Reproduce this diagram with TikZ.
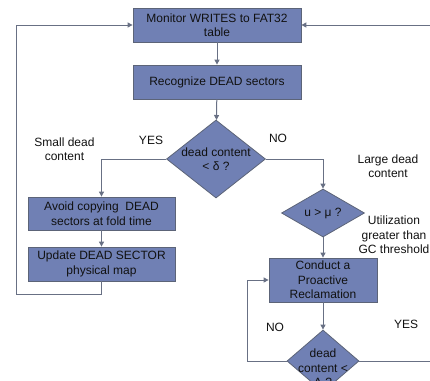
\documentclass[tikz,border=0pt]{standalone}
\usepackage{fontspec}
\setmainfont{Liberation Sans}
\usepackage{tikz}
\usetikzlibrary{arrows.meta, shapes.geometric}
\usepackage{xcolor}
\definecolor{boxfill}{HTML}{7080B4}
\definecolor{boxline}{HTML}{5C6478}
\definecolor{flowline}{HTML}{687084}
\definecolor{inktext}{HTML}{111111}

\tikzset{
  note/.style={align=center, text=inktext, inner sep=0pt, font=\fontsize{12}{14.5}\selectfont},
  stepbox/.style={note, draw=boxline, fill=boxfill, line width=0.8pt},
  decision/.style={diamond, draw=boxline, fill=boxfill, line width=0.8pt, inner sep=0pt},
  flow/.style={draw=flowline, line width=1pt, -{Triangle[length=5pt,width=5pt]}}
}

\begin{document}
\begin{tikzpicture}[x=1pt, y=-1pt]
				\useasboundingbox (0,0) rectangle (430,380);
				\clip (0,0) rectangle (430,380);
				% main column
				\node[stepbox, minimum width=168, minimum height=34] (monitor) at (217,25) {Monitor WRITES to FAT32\\table};
				\node[stepbox, minimum width=168, minimum height=34] (recognize) at (217,82) {Recognize DEAD sectors};
				\node[decision, minimum width=99, minimum height=78, label={[note]center:dead content\\< δ ?}] (deadtest) at (216,159) {};
				% small dead content branch
				\node[stepbox, minimum width=147, minimum height=33] (avoid) at (101.5,213.5) {Avoid copying\ \ DEAD\\sectors at fold time};
				\node[stepbox, minimum width=147, minimum height=34] (update) at (101.5,264) {Update DEAD SECTOR\\physical map};
				% large dead content branch
				\node[decision, minimum width=83, minimum height=48, label={[note]center:u > μ ?}] (utiltest) at (323,213) {};
				\node[stepbox, minimum width=108, minimum height=44] (reclaim) at (323,280) {Conduct a\\Proactive\\Reclamation};
				\node[decision, minimum width=72, minimum height=62, label={[note, yshift=-7pt]center:dead\\content <\\Δ ?}] (againtest) at (323,361) {};
				% labels
				\node[note] (yesA) at (151,140) {YES};
				\node[note] (noA) at (278,138) {NO};
				\node[note] (smalltxt) at (64.5,149) {Small dead\\content};
				\node[note] (largetxt) at (388,166) {Large dead\\content};
				\node[note] (utiltxt) at (394,235) {Utilization\\greater than\\GC threshold};
				\node[note] (noB) at (275,327) {NO};
				\node[note] (yesB) at (406,324) {YES};
				% rails
				\coordinate (leftrail) at (16,294);
				\coordinate (looprail) at (247,361);
				\coordinate (rightrail) at (445,361);
				% connectors
				\draw[flow] (monitor) -- (recognize);
				\draw[flow] (recognize) -- (deadtest);
				\draw[flow] (deadtest.west) -| (avoid.north);
				\draw[flow] (avoid) -- (update);
				\draw[flow] (update.south) |- (leftrail) |- (monitor.west);
				\draw[flow] (deadtest.east) -| (utiltest.north);
				\draw[flow] (utiltest) -- (reclaim);
				\draw[flow] (reclaim) -- (againtest);
				\draw[flow] (againtest.west) -- (looprail) |- (reclaim.west);
				\draw[flow] (againtest.east) -- (rightrail) |- (monitor.east);
			\end{tikzpicture}
\end{document}
